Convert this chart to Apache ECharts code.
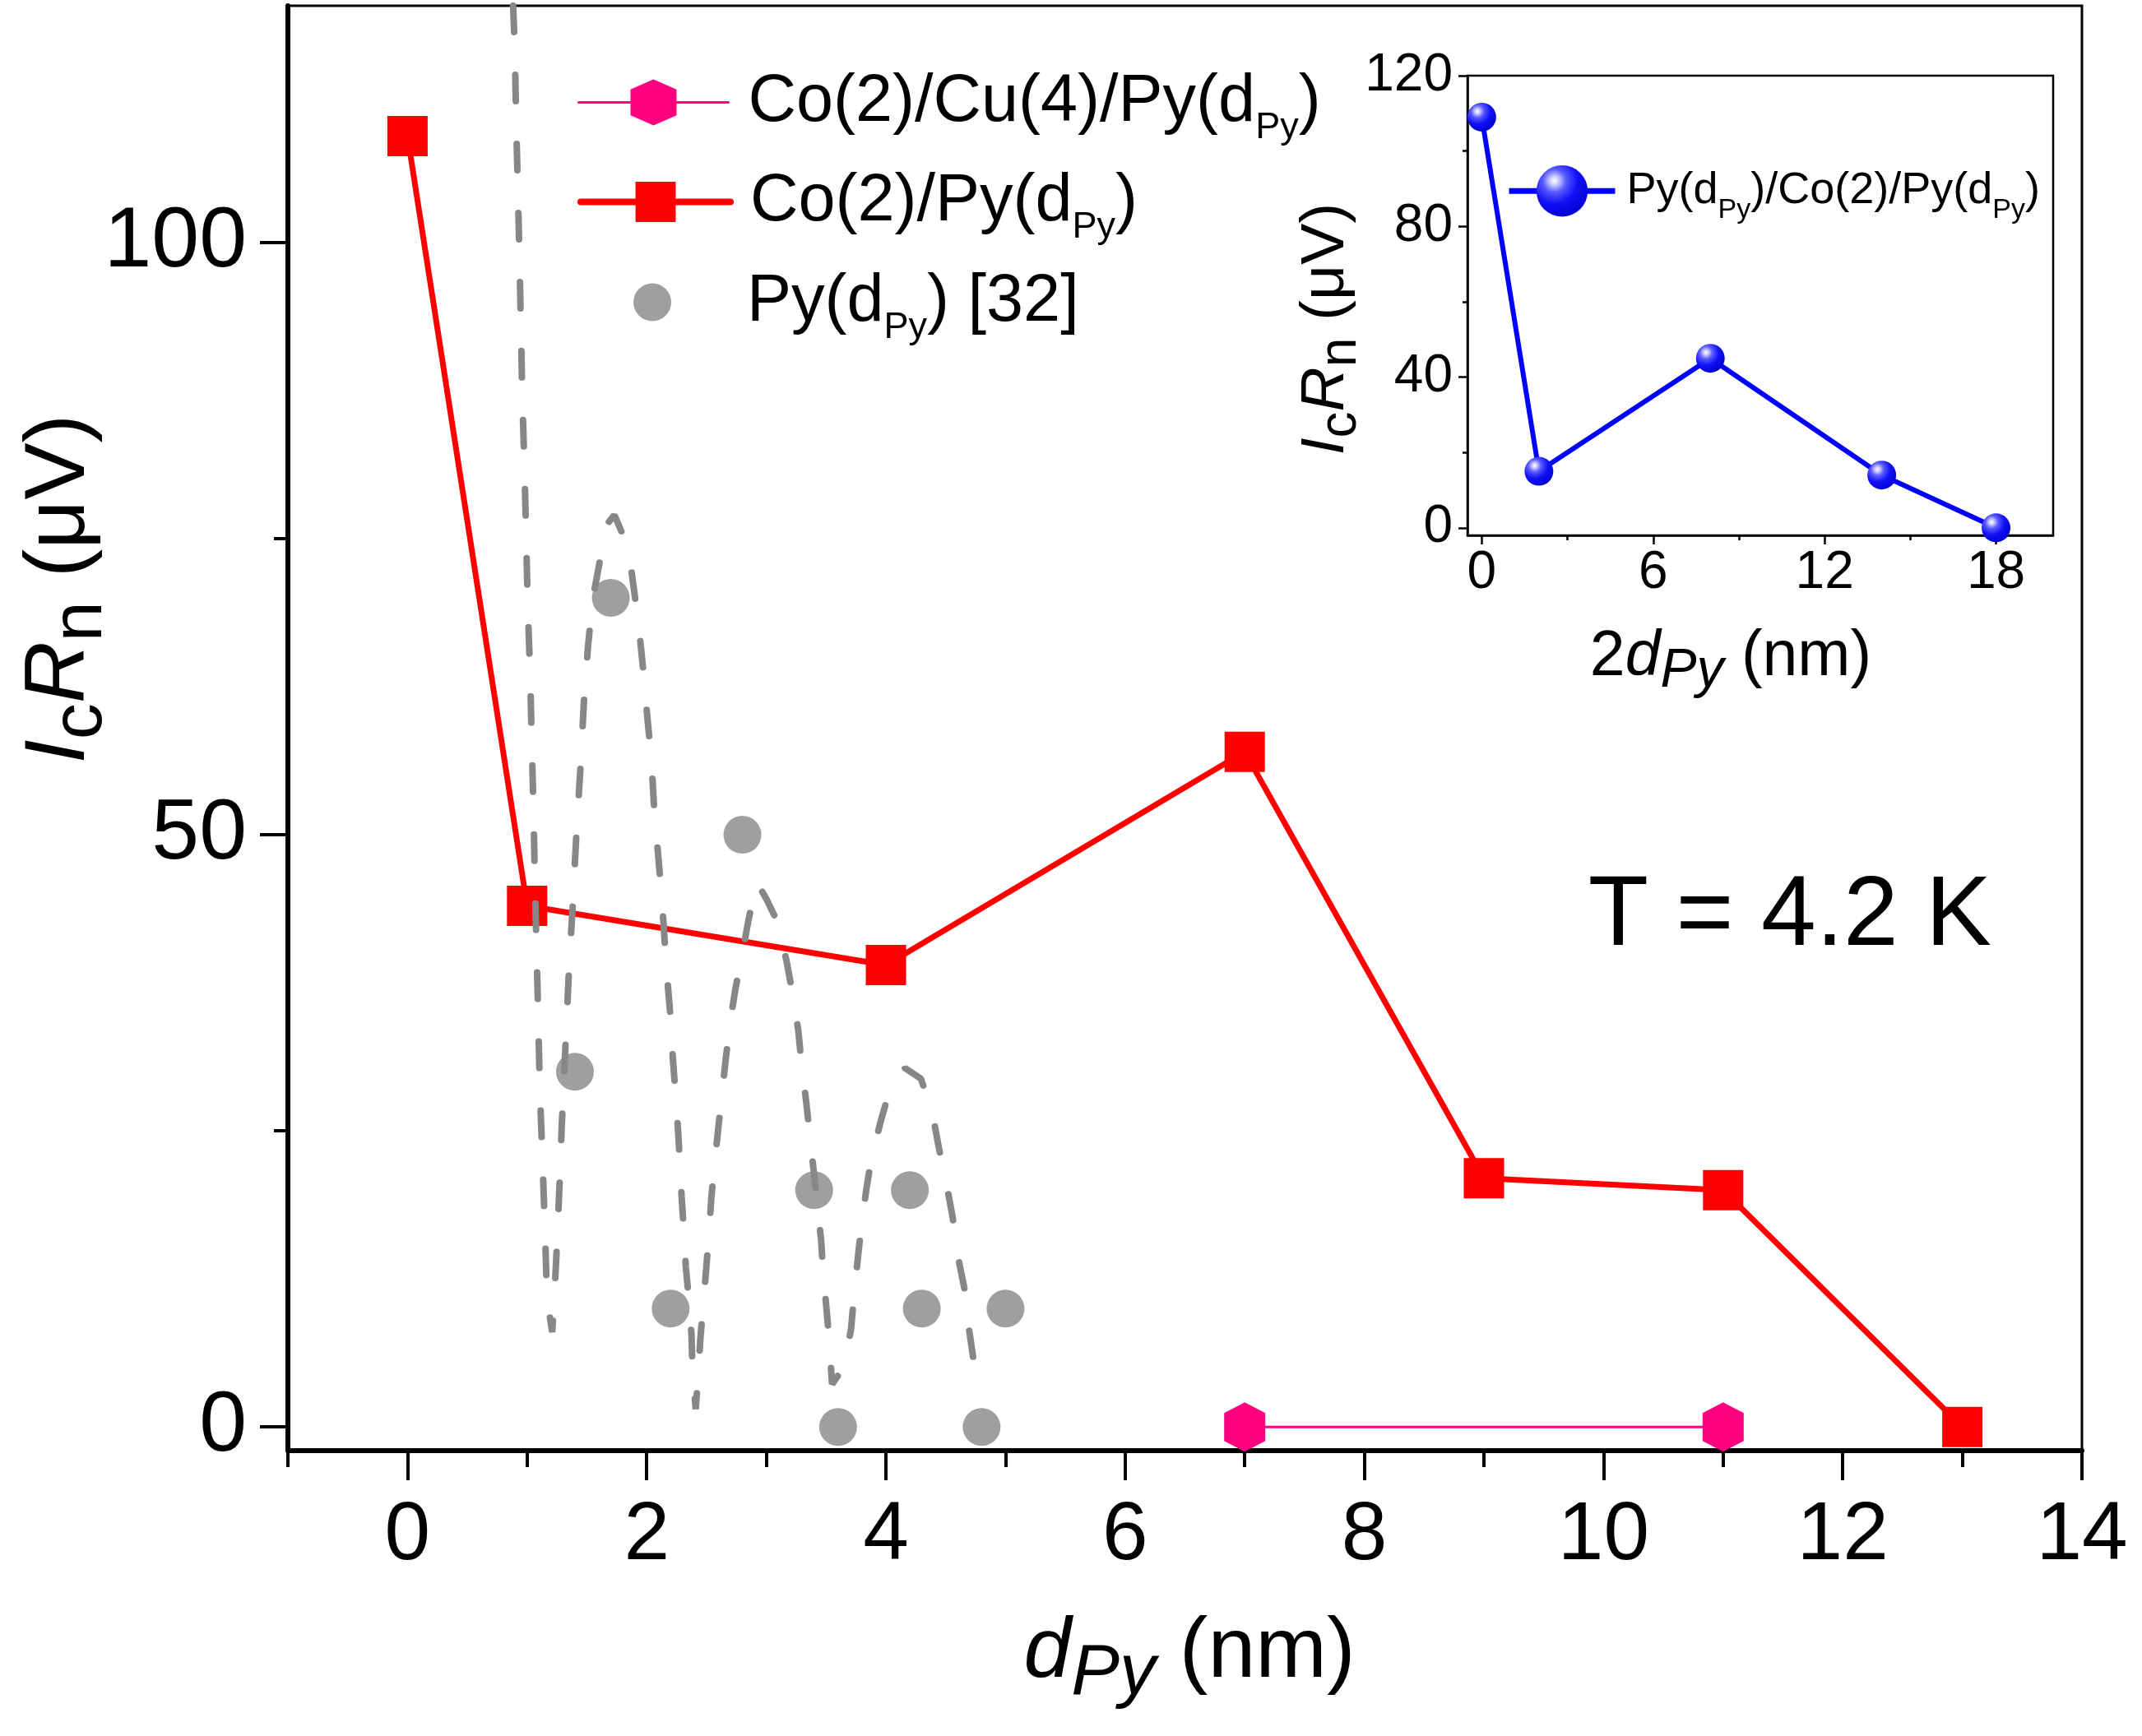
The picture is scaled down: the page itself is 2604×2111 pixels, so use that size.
<!DOCTYPE html>
<html lang="en">
<head>
<meta charset="UTF-8">
<title>IcRn vs dPy</title>
<script src="https://cdn.jsdelivr.net/npm/echarts@6.0.0/dist/echarts.min.js"></script>
<style>
  html, body { margin: 0; padding: 0; background: #fff; }
  #main { width: 2604px; height: 2111px; }
</style>
</head>
<body>
<div id="main"></div>
<script>
    var FONT = '"Liberation Sans", Arial, sans-serif';

    // main panel: [dPy (nm), IcRn (uV)]
    var coCuPy = [[7, 0], [11, 0]];
    var coPy = [[0, 109], [1, 44], [4, 39], [7, 57], [9, 21], [11, 20], [13, 0]];
    var pyRef = [[1.4, 30], [1.7, 70], [2.2, 10], [2.8, 50], [3.4, 20], [3.6, 0],
                 [4.2, 20], [4.3, 10], [4.8, 0], [5.0, 10]];
    // dashed guide curve for Py(dPy) [32]
    var pyFit = [
        [0.883, 120], [0.897, 116.4], [0.908, 110.5], [0.922, 104.7], [0.936, 98.8], [0.948, 93.0],
        [0.959, 87.2], [0.977, 81.3], [0.99, 76], [1.005, 69.5], [1.025, 63.6], [1.039, 57.8],
        [1.054, 51.8], [1.065, 46.0], [1.079, 40.1], [1.087, 37.1], [1.107, 28.3], [1.129, 22.5],
        [1.149, 16.6], [1.167, 10.8], [1.21, 8],
        [1.23, 11.5], [1.25, 15.5], [1.27, 20.2], [1.29, 25.5], [1.32, 32], [1.35, 38.6],
        [1.38, 43.8], [1.41, 49.7], [1.445, 55.5], [1.476, 61.4], [1.51, 66], [1.55, 70],
        [1.61, 73.2], [1.65, 76], [1.73, 77], [1.815, 75], [1.872, 72.3], [1.915, 69.1],
        [1.946, 66.4], [1.978, 63.2], [2.001, 60.4], [2.029, 57.4], [2.049, 54.6], [2.066, 51.5],
        [2.092, 48.7], [2.118, 45.7], [2.138, 42.9], [2.158, 39.8], [2.178, 37.1], [2.204, 34.0],
        [2.218, 31.2], [2.241, 28.1], [2.261, 25.2], [2.278, 22.3], [2.292, 19.4], [2.312, 16.3],
        [2.327, 13.5], [2.355, 10.5], [2.375, 7.7], [2.383, 4.6], [2.41, 1.5],
        [2.432, 4.8], [2.449, 7.5], [2.475, 10.6], [2.497, 13.3], [2.523, 16.6], [2.54, 19.3],
        [2.569, 22.4], [2.597, 25.1], [2.632, 28.3], [2.66, 31.0], [2.697, 34.1], [2.74, 36.9],
        [2.8, 40.0], [2.851, 42.8], [2.92, 46], [3.0, 44.6], [3.1, 42.5], [3.17, 39.3],
        [3.219, 36.6], [3.267, 33.5], [3.295, 30.6], [3.333, 27.5], [3.362, 24.8], [3.41, 20.3],
        [3.458, 15.8], [3.475, 13.1], [3.503, 10.0], [3.526, 7.3], [3.55, 3.6],
        [3.65, 5.1], [3.709, 8.3], [3.732, 11.0], [3.766, 14.3], [3.794, 17.0], [3.837, 20.1],
        [3.88, 22.8], [3.959, 25.9], [4.036, 28.6], [4.16, 30.3], [4.293, 29.4], [4.387, 26.6],
        [4.444, 23.5], [4.501, 20.8], [4.558, 17.7], [4.592, 14.9], [4.656, 11.7], [4.684, 9.0],
        [4.729, 5.9], [4.757, 3.1], [4.77, 2.8]
    ];

    // inset: 2dPy (nm) vs IcRn (uV)
    var insetX = [0, 2, 8, 14, 18];
    var insetY = [109, 15, 45, 14, 0];

    // ticks
    var xMajor = [0, 2, 4, 6, 8, 10, 12, 14];
    var xMinor = [-1, 1, 3, 5, 7, 9, 11, 13];
    var yMajor = [0, 50, 100];
    var yMinor = [25, 75];
    var inXMajor = [0, 6, 12, 18];
    var inXMinor = [3, 9, 15];
    var inYMajor = [0, 40, 80, 120];
    var inYMinor = [20, 60, 100];

    var chart = echarts.init(document.getElementById('main'));

    var hexagon = 'path://M25,0 L50,13 L50,47 L25,60 L0,47 L0,13 Z';
    var sphere = {
        type: 'radial', x: 0.35, y: 0.3, r: 0.75,
        colorStops: [
            { offset: 0, color: '#ffffff' },
            { offset: 0.12, color: '#c8c8ff' },
            { offset: 0.3, color: '#5a5aff' },
            { offset: 0.6, color: '#1010f5' },
            { offset: 1, color: '#0000d0' }
        ]
    };

    var legendRich = {
        m: { fontSize: 81, lineHeight: 108, fontFamily: FONT, color: '#000' },
        s: { fontSize: 45, lineHeight: 20, verticalAlign: 'bottom', fontFamily: FONT, color: '#000' }
    };
    var insetRich = {
        m: { fontSize: 54, lineHeight: 80, fontFamily: FONT, color: '#000' },
        s: { fontSize: 34, lineHeight: 12, verticalAlign: 'bottom', fontFamily: FONT, color: '#000' }
    };
    var labels = {
        'Co(2)/Cu(4)/Py(dPy)': '{m|Co(2)/Cu(4)/Py(d}{s|Py}{m|)}',
        'Co(2)/Py(dPy)': '{m|Co(2)/Py(d}{s|Py}{m|)}',
        'Py(dPy) [32]': '{m|Py(d}{s|Py}{m|) [32]}',
        'Py(dPy)/Co(2)/Py(dPy)': '{m|Py(d}{s|Py}{m|)/Co(2)/Py(d}{s|Py}{m|)}'
    };
    function fmt(name) { return labels[name]; }

    function mainLegend(name, left, top, itemHeight, lineWidth) {
        return {
            data: [name], left: left, top: top, orient: 'vertical', padding: 0,
            itemWidth: 182, itemHeight: itemHeight, selectedMode: false,
            lineStyle: { width: lineWidth, cap: 'round' },
            formatter: fmt,
            textStyle: { rich: legendRich, padding: [0, 0, 0, 19] }
        };
    }

    function titleRich(big, small, lh, slh) {
        return {
            i: { fontSize: big, fontStyle: 'italic', lineHeight: lh, fontFamily: FONT, color: '#000' },
            m: { fontSize: big, lineHeight: lh, fontFamily: FONT, color: '#000' },
            s: { fontSize: small, lineHeight: slh, verticalAlign: 'bottom', fontFamily: FONT, color: '#000' },
            si: { fontSize: small, fontStyle: 'italic', lineHeight: slh, verticalAlign: 'bottom', fontFamily: FONT, color: '#000' }
        };
    }

    function axisPair(dim, grid, min, max, major, minor, opt) {
        var main = {
            type: 'value', gridIndex: grid, min: min, max: max,
            axisLine: { show: true, onZero: false, lineStyle: { color: '#000', width: opt.line } },
            axisTick: { show: true, customValues: major, length: opt.major, lineStyle: { color: '#000', width: opt.tick } },
            axisLabel: { customValues: major, margin: opt.margin, fontSize: opt.font, color: '#000', fontFamily: FONT },
            splitLine: { show: false }
        };
        var sub = {
            type: 'value', gridIndex: grid, min: min, max: max,
            axisLine: { show: false, onZero: false },
            axisTick: { show: true, customValues: minor, length: opt.minor, lineStyle: { color: '#000', width: opt.tick } },
            axisLabel: { show: false },
            splitLine: { show: false }
        };
        main.position = sub.position = (dim === 'x' ? 'bottom' : 'left');
        return [main, sub];
    }

    var mainX = axisPair('x', 0, -1, 14, xMajor, xMinor, { line: 6, tick: 4, major: 36, minor: 20, margin: 54, font: 100 });
    var mainY = axisPair('y', 0, -2, 120, yMajor, yMinor, { line: 6, tick: 4, major: 34, minor: 17, margin: 50, font: 104 });
    var insX = axisPair('x', 1, -0.5, 20, inXMajor, inXMinor, { line: 2.5, tick: 2.5, major: 11, minor: 6, margin: 14, font: 64 });
    var insY = axisPair('y', 1, -2, 120, inYMajor, inYMinor, { line: 2.5, tick: 2.5, major: 11, minor: 6, margin: 18, font: 64 });

    var option = {
        animation: false,
        backgroundColor: '#ffffff',
        grid: [
            { left: 350, top: 7, width: 2181, height: 1757, show: true, borderColor: '#000', borderWidth: 3, outerBoundsMode: 'none' },
            { left: 1784, top: 92, width: 712, height: 559, show: true, borderColor: '#000', borderWidth: 2.5, outerBoundsMode: 'none' }
        ],
        xAxis: mainX.concat(insX),
        yAxis: mainY.concat(insY),
        legend: [
            mainLegend('Co(2)/Cu(4)/Py(dPy)', 702, 84, 70, 3),
            mainLegend('Co(2)/Py(dPy)', 702, 205, 61, 8),
            // scatter icon box is trimmed to the dot, so shift it to the centre of the 182 px slot
            mainLegend('Py(dPy) [32]', 770, 327, 46, 0),
            {
                data: ['Py(dPy)/Co(2)/Py(dPy)'], left: 1831, top: 201, padding: 0,
                itemWidth: 129, itemHeight: 78, selectedMode: false,
                lineStyle: { width: 7 },
                formatter: fmt,
                textStyle: { rich: insetRich, padding: [0, 0, 0, 9] }
            }
        ],
        graphic: [
            {
                type: 'text', x: 2176, y: 1116,
                style: { text: 'T = 4.2 K', fontSize: 120, fontFamily: FONT, fill: '#000', align: 'center', verticalAlign: 'middle' }
            },
            {
                type: 'text', x: 73, y: 716, rotation: Math.PI / 2,
                style: {
                    text: '{i|I}{s|c}{i|R}{s|n}{m| (μV)}', rich: titleRich(104, 88, 140, 58),
                    align: 'center', verticalAlign: 'middle'
                }
            },
            {
                type: 'text', x: 1446, y: 2010,
                style: {
                    text: '{i|d}{si|Py}{m| (nm)}', rich: titleRich(104, 88, 140, 58),
                    align: 'center', verticalAlign: 'middle'
                }
            },
            {
                type: 'text', x: 1612, y: 400, rotation: Math.PI / 2,
                style: {
                    text: '{i|I}{s|c}{i|R}{s|n}{m| (μV)}', rich: titleRich(75, 64, 100, 40),
                    align: 'center', verticalAlign: 'middle'
                }
            },
            {
                type: 'text', x: 2104, y: 800,
                style: {
                    text: '{m|2}{i|d}{si|Py}{m| (nm)}', rich: titleRich(77, 66, 100, 40),
                    align: 'center', verticalAlign: 'middle'
                }
            }
        ],
        series: [
            {
                name: 'Co(2)/Py(dPy)', type: 'line', xAxisIndex: 0, yAxisIndex: 0,
                data: coPy, symbol: 'rect', symbolSize: 49, z: 3,
                itemStyle: { color: '#ff0000' },
                lineStyle: { color: '#ff0000', width: 7 }
            },
            {
                name: 'Co(2)/Cu(4)/Py(dPy)', type: 'line', xAxisIndex: 0, yAxisIndex: 0,
                data: coCuPy, symbol: hexagon, symbolSize: [50, 60], z: 3,
                itemStyle: { color: '#ff0080' },
                lineStyle: { color: '#ff0080', width: 3 }
            },
            {
                name: 'Py(dPy) [32]', type: 'scatter', xAxisIndex: 0, yAxisIndex: 0,
                data: pyRef, symbol: 'circle', symbolSize: 46, z: 4,
                itemStyle: { color: '#878787' }
            },
            {
                name: 'fit', type: 'line', xAxisIndex: 0, yAxisIndex: 0,
                data: pyFit, symbol: 'none', z: 5, silent: true,
                lineStyle: { color: '#878787', width: 8, type: [32, 52], cap: 'round' }
            },
            {
                name: 'Py(dPy)/Co(2)/Py(dPy)', type: 'line', xAxisIndex: 2, yAxisIndex: 2,
                data: insetX.map(function (x, i) { return [x, insetY[i]]; }),
                symbol: 'circle', symbolSize: 35, z: 3,
                itemStyle: { color: sphere },
                lineStyle: { color: '#0000ff', width: 6 }
            }
        ]
    };

    chart.setOption(option);
</script>
</body>
</html>
